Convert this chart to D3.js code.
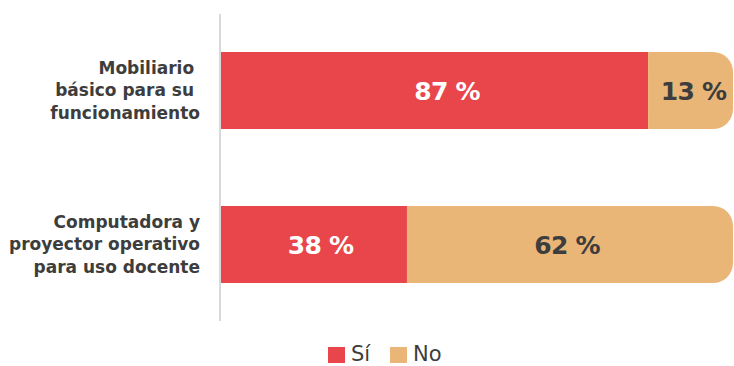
<!DOCTYPE html>
<html>
<head>
<meta charset="utf-8">
<script src="https://cdn.jsdelivr.net/npm/d3@7"></script>
<style>
  body { margin: 0; background: #fff; }
  svg { display: block; font-family: "DejaVu Sans", sans-serif; }
</style>
</head>
<body>
<div id="chart"></div>
<script>
'use strict';

const categories = [
  ['Mobiliario ', 'básico para su ', 'funcionamiento'],
  ['Computadora y', 'proyector operativo', 'para uso docente']
];
const seriesNames = ['Sí', 'No'];
const siValues = [87, 38];
const noValues = [13, 62];

const width = 734, height = 366;
const red = '#e8464a', orange = '#e9b677', dark = '#3d3d3d';

let svg = d3.select('#chart').append('svg')
    .attr('width', width)
    .attr('height', height);

let keys = categories.map((c, i) => i);

let y = d3.scaleBand()
    .domain(keys)
    .range([13.5, 321.5])
    .paddingInner(0.5)
    .paddingOuter(0.25);

let x = d3.scaleLinear()
    .domain([0, 100])
    .range([220, 712]);

let cap = 21, r = 20;

//axis line
svg.append('line')
    .attr('x1', x(0)).attr('x2', x(0))
    .attr('y1', 14).attr('y2', 321)
    .attr('stroke', '#d9d9d9')
    .attr('stroke-width', 2);

let rows = svg.selectAll('.row')
    .data(keys)
    .enter()
    .append('g')
    .attr('class', 'row');

//red segment
rows.append('rect')
    .attr('x', x(0) + 1)
    .attr('y', i => y(i))
    .attr('width', i => x(siValues[i]) - x(0) - 1)
    .attr('height', y.bandwidth())
    .attr('fill', red);

//orange segment with rounded end
rows.append('path')
    .attr('fill', orange)
    .attr('d', i => {
        let x0 = x(siValues[i]), x1 = x(siValues[i] + noValues[i]) + cap;
        let y0 = y(i), y1 = y(i) + y.bandwidth();
        return 'M' + x0 + ',' + y0 + 'H' + (x1 - r) +
            'A' + r + ',' + r + ' 0 0 1 ' + x1 + ',' + (y0 + r) +
            'V' + (y1 - r) +
            'A' + r + ',' + r + ' 0 0 1 ' + (x1 - r) + ',' + y1 +
            'H' + x0 + 'Z';
    });

//value labels
rows.append('text')
    .attr('x', i => (x(0) + x(siValues[i])) / 2 + [13, 7][i])
    .attr('y', i => y(i) + y.bandwidth() / 2 + 9)
    .attr('text-anchor', 'middle')
    .attr('fill', '#fff')
    .attr('font-size', 25)
    .attr('font-weight', 'bold')
    .attr('letter-spacing', -0.8)
    .text(i => siValues[i] + ' %');

rows.append('text')
    .attr('x', i => (x(siValues[i]) + x(100) + cap) / 2 + [3, -3][i])
    .attr('y', i => y(i) + y.bandwidth() / 2 + 9)
    .attr('text-anchor', 'middle')
    .attr('fill', dark)
    .attr('font-size', 25)
    .attr('font-weight', 'bold')
    .attr('letter-spacing', -0.8)
    .text(i => noValues[i] + ' %');

//category labels
rows.append('text')
    .attr('text-anchor', 'end')
    .attr('fill', dark)
    .attr('font-size', 17)
    .attr('font-weight', 'bold')
    .selectAll('tspan')
    .data(i => categories[i].map((t, k) => ({t: t, k: k, i: i})))
    .enter()
    .append('tspan')
    .attr('x', 200)
    .attr('y', d => y(d.i) + y.bandwidth() / 2 - 17 + d.k * 22.5)
    .attr('xml:space', 'preserve')
    .style('white-space', 'pre')
    .text(d => d.t);

//legend
let legend = svg.append('g')
    .attr('transform', 'translate(328,346)');

let lx = [0, 62];
seriesNames.forEach((name, i) => {
    legend.append('rect')
        .attr('x', lx[i]).attr('y', 1)
        .attr('width', 17).attr('height', 16)
        .attr('fill', [red, orange][i]);
    legend.append('text')
        .attr('x', lx[i] + 23)
        .attr('y', 15)
        .attr('fill', dark)
        .attr('font-size', 21)
        .text(name);
});
</script>
</body>
</html>
